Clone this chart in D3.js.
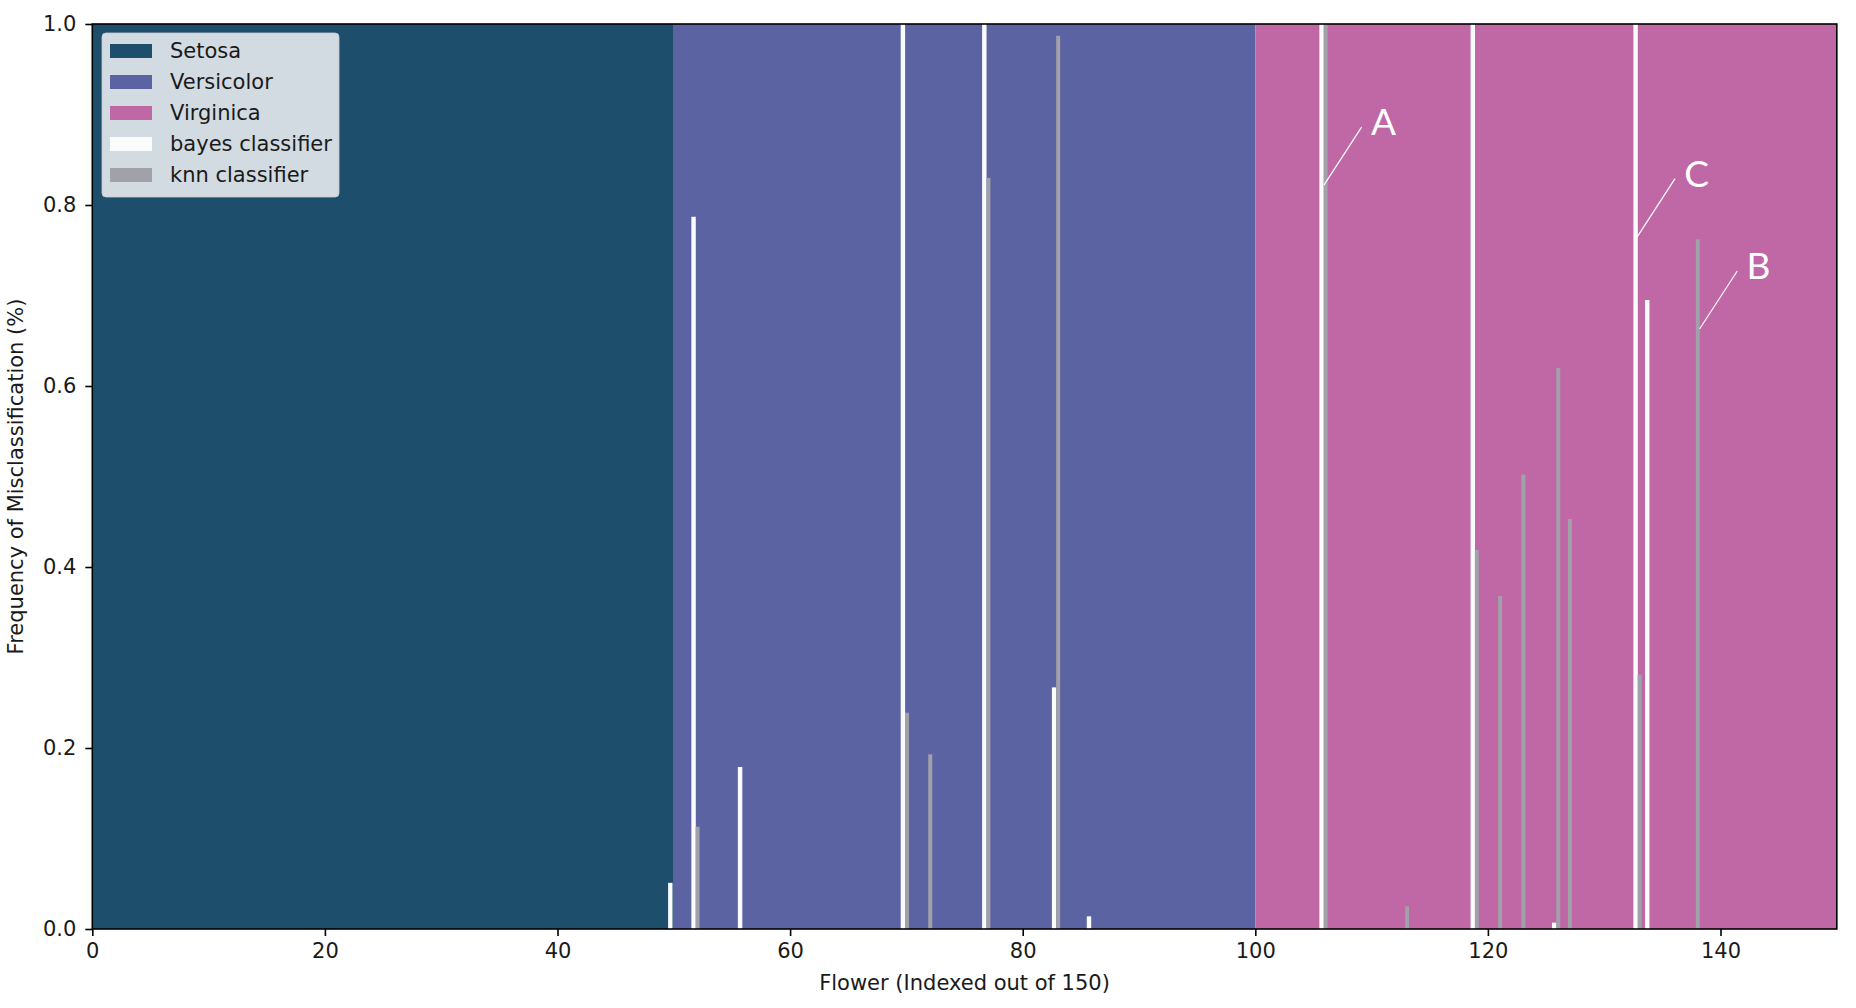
<!DOCTYPE html>
<html>
<head>
<meta charset="utf-8">
<script src="https://cdn.jsdelivr.net/npm/d3@7"></script>
<style>
  html, body { margin: 0; padding: 0; background: #fff; }
  svg { display: block; }
</style>
</head>
<body>
<div id="chart"></div>
<script>
// class bands (flower index ranges)
const classNames = ["Setosa", "Versicolor", "Virginica"];
const classStart = [0, 50, 100];
const classEnd = [50, 100, 150];

// bayes classifier misclassification frequency per flower
const bayesFlowers = [50, 52, 56, 70, 77, 83, 86, 106, 119, 126, 133, 134];
const bayesFreq = [0.051, 0.787, 0.179, 1.0, 1.0, 0.267, 0.014, 1.0, 1.0, 0.007, 1.0, 0.695];

// knn classifier misclassification frequency per flower
const knnFlowers = [52, 70, 72, 77, 83, 106, 113, 119, 121, 123, 126, 127, 133, 138];
const knnFreq = [0.113, 0.239, 0.193, 0.83, 0.987, 1.0, 0.025, 0.419, 0.368, 0.502, 0.62, 0.453, 0.281, 0.762];

// callouts: label, flower, frequency pointed at
const noteLabels = ["A", "C", "B"];
const noteFlowers = [105.9, 132.85, 138.2];
const noteFreq = [0.822, 0.765, 0.663];

const xTicks = [0, 20, 40, 60, 80, 100, 120, 140];
const yTicks = [0, 0.2, 0.4, 0.6, 0.8, 1.0];

const W = 1856, H = 1008;
const margin = { top: 24, right: 19.2, bottom: 79, left: 92.3 };
const classColors = ["#1d4e6b", "#5c63a2", "#c067a6"];
const bayesColor = "#fafcfc";
const knnColor = "#a1a1a9";
const font = "'DejaVu Sans', sans-serif";
const fontSize = "21px";

const svg = d3.select("#chart").append("svg")
  .attr("width", W).attr("height", H)
  .style("background", "#fff");

const x = d3.scaleLinear().domain([0, 150]).range([margin.left, W - margin.right]);
const y = d3.scaleLinear().domain([0, 1]).range([H - margin.bottom, margin.top]);

// background bands
svg.append("g").selectAll("rect")
  .data(classNames)
  .join("rect")
  .attr("x", (d, i) => x(classStart[i]))
  .attr("width", (d, i) => x(classEnd[i]) - x(classStart[i]))
  .attr("y", y(1))
  .attr("height", y(0) - y(1))
  .attr("fill", (d, i) => classColors[i]);

// bars: bayes drawn first, knn on top
const bayesOffset = -0.3, bayesWidth = 0.38;
const knnOffset = 0.05, knnWidth = 0.34;

svg.append("g").selectAll("rect")
  .data(bayesFlowers.map((f, i) => ({ f, v: bayesFreq[i] })))
  .join("rect")
  .attr("x", (d) => x(d.f + bayesOffset - bayesWidth / 2))
  .attr("width", x(bayesWidth) - x(0))
  .attr("y", (d) => y(d.v))
  .attr("height", (d) => y(0) - y(d.v))
  .attr("fill", bayesColor);

svg.append("g").selectAll("rect")
  .data(knnFlowers.map((f, i) => ({ f, v: knnFreq[i] })))
  .join("rect")
  .attr("x", (d) => x(d.f + knnOffset - knnWidth / 2))
  .attr("width", x(knnWidth) - x(0))
  .attr("y", (d) => y(d.v))
  .attr("height", (d) => y(0) - y(d.v))
  .attr("fill", knnColor);

// callouts
const notes = svg.append("g");
noteLabels.forEach((label, i) => {
  const px = x(noteFlowers[i]), py = y(noteFreq[i]);
  notes.append("line")
    .attr("x1", px).attr("y1", py)
    .attr("x2", px + 37.7).attr("y2", py - 58)
    .attr("stroke", "#fff").attr("stroke-width", 1.2);
  notes.append("text")
    .attr("x", px + 47).attr("y", py - 50)
    .attr("fill", "#fff")
    .style("font-family", "Lato, 'Open Sans', sans-serif")
    .style("font-size", "37px")
    .text(label);
});

// axes
const xAxis = svg.append("g")
  .attr("transform", `translate(0,${y(0)})`)
  .call(d3.axisBottom(x).tickValues(xTicks).tickSize(7).tickPadding(7).tickSizeOuter(0));
const yAxis = svg.append("g")
  .attr("transform", `translate(${x(0)},0)`)
  .call(d3.axisLeft(y).tickValues(yTicks).tickFormat(d3.format(".1f")).tickSize(7).tickPadding(9).tickSizeOuter(0));

[xAxis, yAxis].forEach((g) => {
  g.select(".domain").remove();
  g.selectAll(".tick line").attr("stroke", "#000").attr("stroke-width", 1.6);
  g.selectAll(".tick text")
    .attr("fill", "#1a1a1a")
    .style("font-family", font)
    .style("font-size", fontSize);
});

// spines
svg.append("rect")
  .attr("x", x(0)).attr("y", y(1))
  .attr("width", x(150) - x(0)).attr("height", y(0) - y(1))
  .attr("fill", "none").attr("stroke", "#000").attr("stroke-width", 1.6);

// axis labels
svg.append("text")
  .attr("x", (x(0) + x(150)) / 2).attr("y", 990)
  .attr("text-anchor", "middle")
  .attr("fill", "#1a1a1a")
  .style("font-family", font).style("font-size", fontSize)
  .text("Flower (Indexed out of 150)");

svg.append("text")
  .attr("transform", `translate(23,${(y(0) + y(1)) / 2}) rotate(-90)`)
  .attr("text-anchor", "middle")
  .attr("fill", "#1a1a1a")
  .style("font-family", font).style("font-size", fontSize)
  .text("Frequency of Misclassification (%)");

// legend
const legendNames = classNames.concat(["bayes classifier", "knn classifier"]);
const legendColors = classColors.concat([bayesColor, knnColor]);
const legend = svg.append("g").attr("transform", "translate(102,33)");
legend.append("rect")
  .attr("width", 237).attr("height", 164)
  .attr("rx", 4)
  .attr("fill", "#fff").attr("fill-opacity", 0.8)
  .attr("stroke", "#ccc").attr("stroke-opacity", 0.8);
const rows = legend.selectAll("g.row")
  .data(legendNames)
  .join("g")
  .attr("class", "row")
  .attr("transform", (d, i) => `translate(0,${18 + i * 31})`);
rows.append("rect")
  .attr("x", 8).attr("y", -7)
  .attr("width", 42).attr("height", 14)
  .attr("fill", (d, i) => legendColors[i]);
rows.append("text")
  .attr("x", 68).attr("y", 7)
  .attr("fill", "#1a1a1a")
  .style("font-family", font).style("font-size", fontSize)
  .text((d) => d);
</script>
</body>
</html>
